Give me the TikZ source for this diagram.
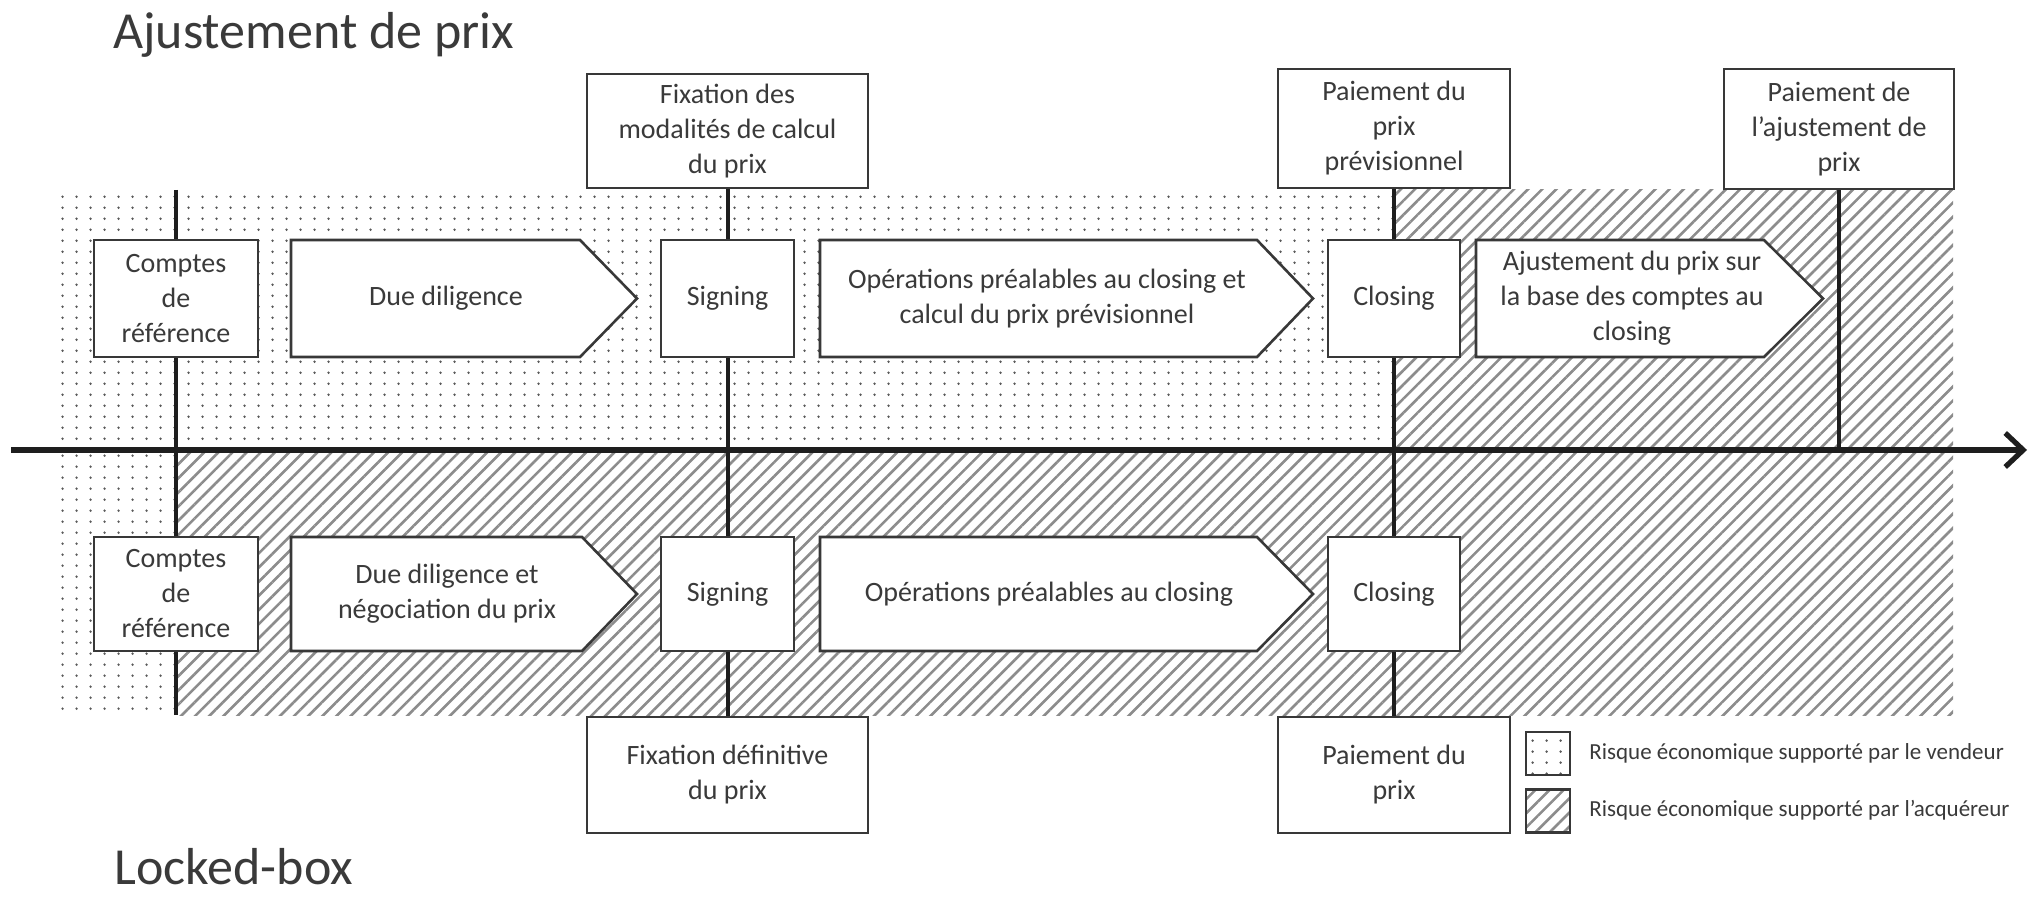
\documentclass[tikz,border=0pt]{standalone}
\usepackage{fontspec}
\setmainfont{Carlito}
\usetikzlibrary{patterns.meta,arrows.meta}
\definecolor{ink}{HTML}{3A3A3A}
\definecolor{edge}{HTML}{383838}
\definecolor{hatchc}{HTML}{8C8C8C}
\definecolor{dotc}{HTML}{5A5A5A}
\definecolor{linec}{HTML}{1E1E1E}
\pgfdeclarepattern{
  name=sdots,
  type=uncolored,
  bottom left={\pgfpoint{0pt}{0pt}},
  top right={\pgfpoint{7pt}{5.4pt}},
  tile size={\pgfpoint{7pt}{5.4pt}},
  code={\pgfpathcircle{\pgfpoint{3.5pt}{2.7pt}}{0.7pt}\pgfusepath{fill}}
}
\newcommand{\boxfont}{\fontsize{14}{17.5}\selectfont}
\newcommand{\titlefont}{\fontsize{26}{31}\selectfont}
\newcommand{\legfont}{\fontsize{11.5}{14}\selectfont}
\begin{document}
\begin{tikzpicture}[x=0.5pt,y=-0.5pt,
  lbl/.style={draw=edge, line width=1.3pt, fill=white, text=ink, align=center,
    inner sep=0pt, font=\boxfont},
  proc/.style={draw=edge, line width=1.3pt, fill=white, line join=miter},
  ptxt/.style={text=ink, align=center, inner sep=0pt, font=\boxfont},
  vline/.style={draw=linec, line width=2pt},
  axisline/.style={draw=linec, line width=2.6pt, -{Straight Barb[length=9pt,width=17pt]}},
  dotfill/.style={pattern=sdots, pattern color=dotc},
  hatchfill/.style={pattern={Lines[angle=45,distance=5pt,line width=1.3pt]}, pattern color=hatchc},
  legbox/.style={draw=edge, line width=1.3pt, minimum width=22pt, minimum height=21.5pt, inner sep=0pt},
  legtxt/.style={text=ink, font=\legfont, inner sep=0pt, anchor=west},
  ttl/.style={text=ink, font=\titlefont, inner sep=0pt, anchor=base west}
]
\useasboundingbox (0,0) rectangle (2039,897);

% risk areas
\fill[dotfill] (55,190) rectangle (1394,450);
\fill[dotfill] (55,450) rectangle (176,715);
\fill[hatchfill] (1394,190) rectangle (1953,450);
\fill[hatchfill] (176,450) rectangle (1953,715);

% milestone label boxes
\node[lbl, minimum width=140.5pt, minimum height=57pt] (fixtop) at (727.5,131) {Fixation des\\modalités de calcul\\du prix};
\node[lbl, minimum width=116pt, minimum height=59.5pt] (paytop) at (1394,128.5) {Paiement du\\prix\\prévisionnel};
\node[lbl, minimum width=115pt, minimum height=60pt] (adjtop) at (1839,129) {Paiement de\\l’ajustement de\\prix};
\node[lbl, minimum width=140.5pt, minimum height=58pt] (fixbot) at (727.5,775) {Fixation définitive\\du prix};
\node[lbl, minimum width=116pt, minimum height=58pt] (paybot) at (1394,775) {Paiement du\\prix};

\coordinate (reftop) at (176,190);
\coordinate (refbot) at (176,715);
\coordinate (adjaxis) at (1839,450);
\coordinate (axisL) at (11,450);
\coordinate (axisR) at (2027,450);

% axis and milestone lines
\draw[axisline] (axisL) -- (axisR);
\draw[vline] (reftop) -- (refbot);
\draw[vline] (fixtop.south) -- (fixbot.north);
\draw[vline] (paytop.south) -- (paybot.north);
\draw[vline] (adjtop.south) -- (adjaxis);

% top row (Ajustement de prix)
\node[lbl, minimum width=82pt, minimum height=58.5pt] (reft) at (176,298.5) {Comptes\\de\\référence};
\draw[proc] (291,240) -- (580,240) -- (637,298.5) -- (580,357) -- (291,357) -- cycle;
\node[ptxt] (ddt) at (446,298.5) {Due diligence};
\node[lbl, minimum width=66.5pt, minimum height=58.5pt] (signt) at (727.5,298.5) {Signing};
\draw[proc] (820,240) -- (1257,240) -- (1313,298.5) -- (1257,357) -- (820,357) -- cycle;
\node[ptxt] (opt) at (1047,298.5) {Opérations préalables au  closing et\\calcul du prix prévisionnel};
\node[lbl, minimum width=66pt, minimum height=58.5pt] (clost) at (1394,298.5) {Closing};
\draw[proc] (1476,240) -- (1764,240) -- (1823,298.5) -- (1764,357) -- (1476,357) -- cycle;
\node[ptxt] (ajt) at (1632,298.5) {Ajustement du prix sur\\la base des comptes au\\closing};

% bottom row (Locked-box)
\node[lbl, minimum width=82pt, minimum height=57pt] (refb) at (176,594) {Comptes\\de\\référence};
\draw[proc] (291,537) -- (582,537) -- (637,594) -- (582,651) -- (291,651) -- cycle;
\node[ptxt] (ddb) at (447,594) {Due diligence et\\négociation du prix};
\node[lbl, minimum width=66.5pt, minimum height=57pt] (signb) at (727.5,594) {Signing};
\draw[proc] (820,537) -- (1257,537) -- (1313,594) -- (1257,651) -- (820,651) -- cycle;
\node[ptxt] (opb) at (1049,594) {Opérations préalables au  closing};
\node[lbl, minimum width=66pt, minimum height=57pt] (closb) at (1394,594) {Closing};

% legend
\node[legbox, dotfill] (legd) at (1548,753.5) {};
\node[legbox, hatchfill] (legh) at (1548,811) {};
\node[legtxt] (legdt) at (1589,753) {Risque économique supporté par le vendeur};
\node[legtxt] (leght) at (1589,810) {Risque économique supporté par l’acquéreur};

% titles
\node[ttl] (t1) at (113,49) {Ajustement de prix};
\node[ttl] (t2) at (114,884) {Locked-box};
\end{tikzpicture}
\end{document}
